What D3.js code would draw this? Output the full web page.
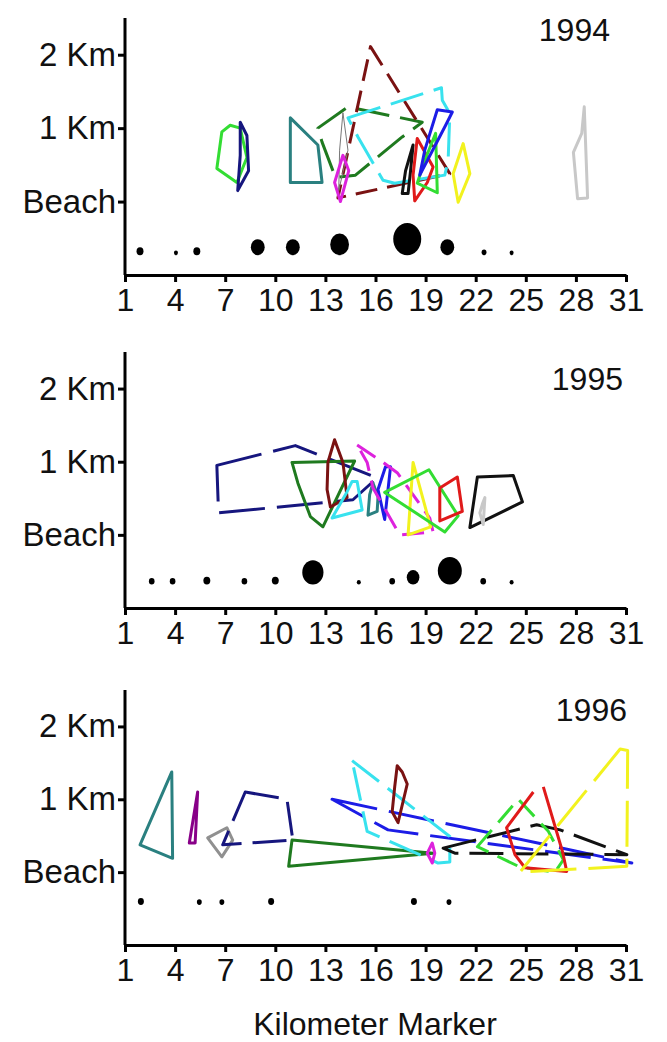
<!DOCTYPE html>
<html>
<head>
<meta charset="utf-8">
<script src="https://cdn.jsdelivr.net/npm/d3@7"></script>
<style>
  body { margin: 0; background: #fff; }
  svg { display: block; }
  text { font-family: "Liberation Sans", Arial, sans-serif; fill: #111; }
</style>
</head>
<body>
<div id="chart"></div>
<script>
// axis values
const xTicks = [1, 4, 7, 10, 13, 16, 19, 22, 25, 28, 31];
const yTicks = [0, 1, 2];
const yTickLabels = ["Beach", "1 Km", "2 Km"];
const years = ["1994", "1995", "1996"];

// home ranges: [kilometer marker, km from beach]
const ranges1994 = [
  {c: "lime",    d: "solid", p: [[6.8,0.95],[7.3,1.04],[7.9,1.0],[8.3,0.6],[7.7,0.26],[6.5,0.45]]},
  {c: "navy",    d: "solid", p: [[7.9,1.08],[8.3,0.9],[8.4,0.42],[7.75,0.15],[7.9,0.63]]},
  {c: "teal",    d: "solid", p: [[10.9,1.14],[12.55,0.77],[12.8,0.26],[10.9,0.26]]},
  {c: "dkgreen", d: "long",  p: [[12.55,1.0],[14.35,1.29],[18.8,1.08],[17.6,0.88],[14.8,0.36],[13.6,0.33],[12.8,0.81]]},
  {c: "dkred",   d: "dash",  p: [[15.7,2.11],[20.45,0.38],[13.75,0.05]]},
  {c: "cyan",    d: "long",  p: [[14.35,1.14],[19.95,1.55],[20.0,1.38],[20.45,1.2],[20.35,0.56],[20.15,0.36],[17.15,0.25],[16.45,0.29],[14.95,0.88]]},
  {c: "thin",    d: "solid", p: [[14.05,1.21],[14.35,0.7],[13.8,0.15],[13.85,0.7]]},
  {c: "magenta", d: "solid", p: [[14.05,0.63],[14.4,0.42],[13.9,0.0],[13.55,0.26]]},
  {c: "black",   d: "solid", p: [[18.25,0.77],[18.1,0.42],[17.95,0.11],[17.6,0.11],[17.8,0.42]]},
  {c: "red",     d: "solid", p: [[18.5,0.86],[19.45,0.47],[19.1,0.26],[18.35,0.01],[18.25,0.36]]},
  {c: "lime",    d: "solid", p: [[19.6,0.93],[19.7,0.12],[18.5,0.25],[18.95,0.56]]},
  {c: "blue",    d: "solid", p: [[19.7,1.25],[20.6,1.22],[20.2,1.04],[18.65,0.36],[18.95,0.7]]},
  {c: "yellow",  d: "solid", p: [[21.25,0.79],[21.65,0.38],[20.95,-0.01],[20.65,0.38]]},
  {c: "ltgray",  d: "solid", p: [[28.5,1.29],[28.7,0.05],[28.1,0.04],[27.85,0.67],[28.35,0.93]]}
];

const ranges1995 = [
  {c: "navy",    d: "xlong", p: [[6.5,0.95],[11.2,1.22],[16.1,0.78],[14.65,0.48],[6.6,0.30]]},
  {c: "dkgreen", d: "solid", p: [[11.0,0.99],[14.75,1.01],[12.85,0.11],[12.1,0.25],[11.35,0.71]]},
  {c: "dkred",   d: "solid", p: [[13.55,1.3],[14.05,0.99],[14.3,0.51],[13.3,0.38],[13.1,0.62],[13.15,0.99]]},
  {c: "cyan",    d: "solid", p: [[14.6,0.73],[14.9,0.73],[15.2,0.34],[13.4,0.23],[14.3,0.59]]},
  {c: "teal",    d: "solid", p: [[15.85,0.71],[16.15,0.52],[16.1,0.32],[15.55,0.27],[15.65,0.55]]},
  {c: "blue",    d: "solid", p: [[16.6,0.93],[16.9,0.93],[16.55,0.21],[16.15,0.62]]},
  {c: "magenta", d: "dash",  p: [[14.9,1.23],[16.4,1.0],[17.3,0.85],[19.25,0.23],[19.45,0.04],[17.45,0.0],[15.85,0.64],[15.5,0.99]]},
  {c: "yellow",  d: "solid", p: [[18.25,0.99],[19.3,0.11],[17.95,0.0]]},
  {c: "lime",    d: "solid", p: [[16.55,0.58],[19.2,0.89],[20.95,0.26],[20.15,0.04]]},
  {c: "red",     d: "solid", p: [[19.85,0.64],[20.9,0.79],[21.2,0.32],[19.85,0.19]]},
  {c: "black",   d: "solid", p: [[22.1,0.79],[24.25,0.81],[24.8,0.45],[21.65,0.1]]},
  {c: "ltgray",  d: "solid", p: [[22.55,0.51],[22.45,0.14],[22.25,0.3],[22.4,0.42]]}
];

const ranges1996 = [
  {c: "teal",    d: "solid", p: [[3.8,1.375],[3.85,0.19],[1.9,0.375]]},
  {c: "purple",  d: "solid", p: [[5.35,1.1],[5.2,0.4],[4.85,0.4],[5.1,0.75]]},
  {c: "gray",    d: "solid", p: [[5.95,0.47],[7.1,0.61],[7.45,0.44],[6.8,0.21]]},
  {c: "navy",    d: "long",  p: [[8.2,1.1],[10.7,1.0],[11.05,0.44],[6.85,0.375]]},
  {c: "dkgreen", d: "solid", p: [[11.0,0.44],[19.45,0.26],[10.8,0.08]]},
  {c: "blue",    d: "xlong", p: [[13.4,1.0],[31.35,0.125],[16.75,0.58]]},
  {c: "cyan",    d: "long",  p: [[14.6,1.53],[20.45,0.49],[20.45,0.14],[19.75,0.125],[15.5,0.56]]},
  {c: "dkred",   d: "solid", p: [[17.3,1.46],[17.6,1.375],[17.9,1.21],[17.35,0.68],[17.0,0.83],[17.15,1.17]]},
  {c: "magenta", d: "solid", p: [[19.4,0.4],[19.55,0.26],[19.4,0.125],[19.1,0.26]]},
  {c: "black",   d: "long",  p: [[20.05,0.33],[25.65,0.65],[27.05,0.58],[31.05,0.24],[20.75,0.26]]},
  {c: "lime",    d: "dash",  p: [[22.1,0.35],[24.55,1.0],[26.35,0.56],[27.25,0.17],[26.75,0.0],[24.65,0.07]]},
  {c: "red",     d: "open",  p: [[26.05,1.17],[27.2,0.28],[27.45,0.01],[24.95,0.06],[24.35,0.24],[23.85,0.61],[25.45,1.1]]},
  {c: "yellow",  d: "xlong", p: [[30.65,1.69],[31.1,1.67],[31.05,0.08],[24.65,0.0]]}
];

// dots below the beach: [kilometer marker, count]
const dots1994 = [[1.9,3],[4.05,1],[5.3,3],[8.95,12],[11.05,12],[13.85,22],[17.9,49],[20.3,12],[22.5,1.5],[24.15,1]];
const dots1995 = [[2.6,2],[3.85,2],[5.9,3],[8.15,2],[10.0,3],[12.25,28],[15.0,1],[17.0,2],[18.25,10],[20.45,36],[22.45,2],[24.15,1]];
const dots1996 = [[1.95,2.25],[5.45,1.5],[6.8,1.5],[9.75,2.25],[18.3,2.25],[20.4,1.5]];

const colours = {
  lime: "#33dd33", navy: "#16167e", teal: "#2a8080", dkgreen: "#1f7a1f",
  dkred: "#7a1212", cyan: "#38e2ee", thin: "#777777", magenta: "#dd22dd",
  black: "#111111", red: "#e01a1a", blue: "#1c1ce6", yellow: "#f2f21e",
  ltgray: "#c8c8c8", gray: "#909090", purple: "#880088"
};
const dashes = {solid: null, open: null, dash: "22,10", long: "34,11", xlong: "46,12"};

const width = 667, height = 1042;
const svg = d3.select("#chart").append("svg")
  .attr("width", width).attr("height", height);

const x = d3.scaleLinear().domain([1, 31]).range([125, 626]);
const r = d3.scaleSqrt().domain([0, 49]).range([0, 14]);

const panels = [
  {top: 18,  bottom: 275, ranges: ranges1994, dots: dots1994, dotBase: -0.73, yearX: 610, yearY: 41},
  {top: 352, bottom: 608, ranges: ranges1995, dots: dots1995, dotBase: -0.68, yearX: 623, yearY: 390},
  {top: 690, bottom: 945, ranges: ranges1996, dots: dots1996, dotBase: -0.45, yearX: 627, yearY: 721}
];

const line = d3.line();

panels.forEach(function(pan, i) {
  const y = d3.scaleLinear().domain([-1, 2.5]).range([pan.bottom, pan.top]);
  const g = svg.append("g");

  // home range polygons
  g.selectAll("path.range")
    .data(pan.ranges)
    .join("path")
    .attr("class", "range")
    .attr("d", function(d) {
      const pts = d.p.map(function(q) { return [x(q[0]), y(q[1])]; });
      return line(pts) + (d.d === "open" ? "" : "Z");
    })
    .attr("fill", "none")
    .attr("stroke", function(d) { return colours[d.c]; })
    .attr("stroke-width", function(d) { return d.c === "thin" ? 1 : 3; })
    .attr("stroke-dasharray", function(d) { return dashes[d.d]; })
    .attr("stroke-linejoin", "round");

  // dots sitting on a common baseline
  g.selectAll("ellipse")
    .data(pan.dots)
    .join("ellipse")
    .attr("cx", function(d) { return x(d[0]); })
    .attr("rx", function(d) { return r(d[1]); })
    .attr("ry", function(d) { return r(d[1]) * 1.15; })
    .attr("cy", function(d) { return y(pan.dotBase) - r(d[1]) * 1.15; })
    .attr("fill", "#000");

  // axes
  const yAxis = g.append("g")
    .attr("transform", `translate(${x(1)},0)`)
    .call(d3.axisLeft(y).tickValues(yTicks)
      .tickFormat(function(d, k) { return yTickLabels[k]; })
      .tickSize(7).tickSizeOuter(0).tickPadding(2));

  const xAxis = g.append("g")
    .attr("transform", `translate(0,${pan.bottom})`)
    .call(d3.axisBottom(x).tickValues(xTicks)
      .tickSize(7).tickSizeOuter(0).tickPadding(6));

  [yAxis, xAxis].forEach(function(a) {
    a.select(".domain").attr("stroke", "#000").attr("stroke-width", 3);
    a.selectAll(".tick line").attr("stroke", "#000").attr("stroke-width", 3);
    a.selectAll(".tick text").style("font-size", "32px").attr("fill", "#111");
  });
  yAxis.selectAll(".tick text").style("font-size", "33px");
  yAxis.select(".domain").attr("d", `M0,${pan.top}V${pan.bottom}`);

  g.append("text")
    .attr("x", pan.yearX).attr("y", pan.yearY)
    .attr("text-anchor", "end")
    .style("font-size", "32px")
    .text(years[i]);
});

svg.append("text")
  .attr("x", 375).attr("y", 1035)
  .attr("text-anchor", "middle")
  .style("font-size", "32px")
  .text("Kilometer Marker");
</script>
</body>
</html>
